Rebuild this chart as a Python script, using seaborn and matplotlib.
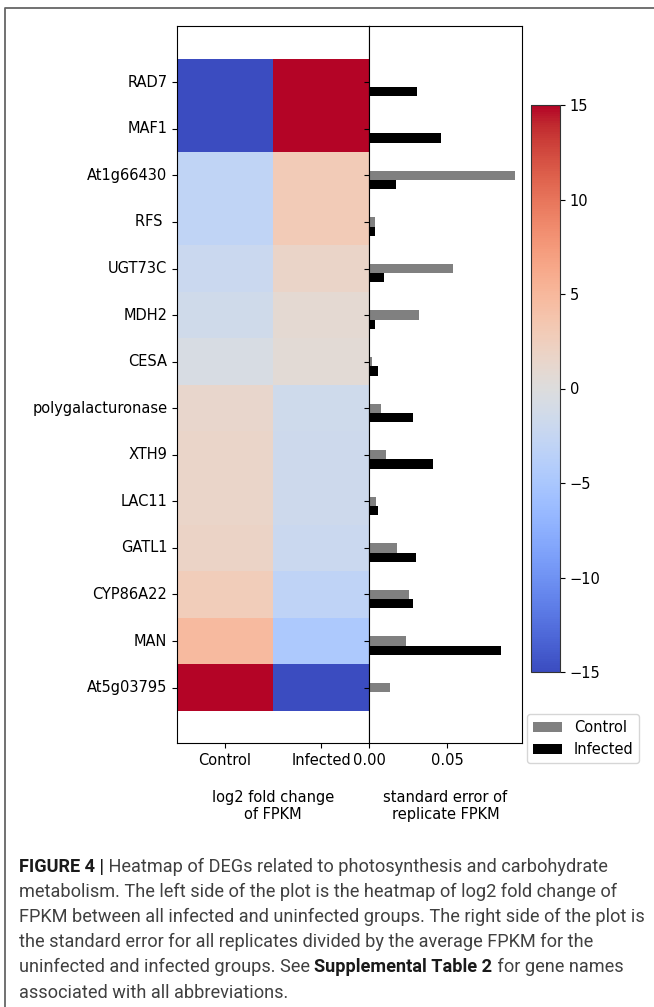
import numpy as np
import pandas as pd
import matplotlib
matplotlib.use("Agg")
import matplotlib.pyplot as plt
from matplotlib.lines import Line2D
from matplotlib.ticker import FormatStrFormatter
import seaborn as sns

# ---------------- data ----------------
genes = ["RAD7", "MAF1", "At1g66430", "RFS ", "UGT73C", "MDH2", "CESA",
         "polygalacturonase", "XTH9", "LAC11", "GATL1", "CYP86A22", "MAN",
         "At5g03795"]
groups = ["Control", "Infected"]
log2fc_control = [-15, -15, -3.0, -3.0, -2.1, -1.5, -0.7, 1.3, 1.6, 1.6, 1.8, 2.8, 4.7, 15]
log2fc_infected = [15, 15, 3.0, 3.0, 1.7, 0.9, 0.6, -1.6, -1.7, -1.7, -2.1, -3.1, -4.7, -15]
se_control = [0.0, 0.0, 0.093, 0.0036, 0.0536, 0.0318, 0.0017, 0.0075, 0.0111,
              0.0047, 0.0179, 0.0258, 0.0233, 0.0137]
se_infected = [0.0308, 0.046, 0.017, 0.0036, 0.0096, 0.0041, 0.0058, 0.0278, 0.041,
               0.0056, 0.030, 0.0278, 0.0842, 0.0]
cbar_ticks = [-15, -10, -5, 0, 5, 10, 15]
se_ticks = [0.0, 0.05]

# ---------------- figure ----------------
W, H = 654, 1007
plt.rcParams["font.family"] = ["DejaVu Sans"]
plt.rcParams["font.size"] = 10.5
fig = plt.figure(figsize=(W / 100, H / 100), dpi=100)


def fx(px):
    return px / W


def fy(py):
    return 1 - py / H


top_px, bot_px = 25.7, 743
ax_hm = fig.add_axes([fx(177), fy(bot_px), (369 - 177) / W, (bot_px - top_px) / H])
ax_bar = fig.add_axes([fx(369), fy(bot_px), (522 - 369) / W, (bot_px - top_px) / H])
cax = fig.add_axes([fx(531), fy(672), 29 / W, (672 - 105) / H])

n = len(genes)
df = pd.DataFrame({groups[0]: log2fc_control, groups[1]: log2fc_infected}, index=genes)
sns.heatmap(df, ax=ax_hm, cmap="coolwarm", vmin=-15, vmax=15, cbar_ax=cax,
            cbar_kws={"ticks": cbar_ticks})
ax_hm.set_yticks(np.arange(n) + 0.5)
ax_hm.set_yticklabels(genes, rotation=0)
ax_hm.set_xticklabels(groups, rotation=0)
ax_hm.set_ylim(n - 0.5 + 0.69 + 0.5, -0.715)
for s in ax_hm.spines.values():
    s.set_visible(True)
    s.set_linewidth(0.8)
    s.set_color("black")
ax_hm.tick_params(axis="both", length=3.5, width=0.8)
ax_hm.set_xlabel("log2 fold change\nof FPKM")
ax_hm.xaxis.set_label_coords(0.5, -0.0655)
ax_hm.set_ylabel("")

cb = ax_hm.collections[0].colorbar
cb.outline.set_visible(True)
cb.outline.set_linewidth(0.8)
cb.outline.set_edgecolor("#333333")
cb.ax.tick_params(labelsize=10.5, length=3.5, width=0.8)

# bars
pos = np.arange(n)
sns.barplot(x=se_control, y=pos, orient="y", native_scale=True, width=0.2,
            color="gray", saturation=1, errorbar=None, ax=ax_bar, label=groups[0])
sns.barplot(x=se_infected, y=pos + 0.2, orient="y", native_scale=True, width=0.2,
            color="black", saturation=1, errorbar=None, ax=ax_bar, label=groups[1])
ax_bar.set_yticks(pos)
ax_bar.set_yticklabels([])
ax_bar.set_ylim(n - 1 + 1.19, -1.215)
ax_bar.set_xlim(0, max(max(se_control), max(se_infected)) * 1.05)
ax_bar.set_xticks(se_ticks)
ax_bar.xaxis.set_major_formatter(FormatStrFormatter("%.2f"))
ax_bar.set_ylabel("")
for s in ax_bar.spines.values():
    s.set_visible(True)
    s.set_linewidth(0.8)
    s.set_color("black")
ax_bar.tick_params(axis="both", length=3.5, width=0.8)
ax_bar.set_xlabel("standard error of\nreplicate FPKM")
ax_bar.xaxis.set_label_coords(0.5, -0.0655)
leg = ax_bar.legend(loc="upper left", bbox_to_anchor=(fx(527), fy(714)),
                    bbox_transform=fig.transFigure, fontsize=10.5, borderaxespad=0)

# ---------------- frame ----------------
fig.add_artist(Line2D([fx(5.5), fx(5.5), 1.02], [-0.02, fy(8), fy(8)],
                      transform=fig.transFigure, color="#666666", lw=1.3))

# ---------------- caption ----------------
caption = [
    [("FIGURE 4 |", True), (" Heatmap of DEGs related to photosynthesis and carbohydrate", False)],
    [("metabolism. The left side of the plot is the heatmap of log2 fold change of", False)],
    [("FPKM between all infected and uninfected groups. The right side of the plot is", False)],
    [("the standard error for all replicates divided by the average FPKM for the", False)],
    [("uninfected and infected groups. See ", False), ("Supplemental Table 2", True),
     (" for gene names", False)],
    [("associated with all abbreviations.", False)],
]
renderer = fig.canvas.get_renderer()
cap_font = ["Roboto", "DejaVu Sans"]
probe = fig.text(0, 0, caption[2][0][0], fontsize=10, family=cap_font)
w10 = probe.get_window_extent(renderer).width
probe.remove()
cap_size = 10 * (642 - 19) / w10

x0 = 19
for k, line in enumerate(caption):
    ybase = 872 + 25.1 * k
    x = x0
    for txt, bold in line:
        t = fig.text(fx(x), fy(ybase), txt, fontsize=cap_size, family=cap_font,
                     fontweight="bold" if bold else "normal",
                     color="#1a1a1a" if bold else "#404040", va="baseline", ha="left")
        x = t.get_window_extent(renderer).x1

fig.savefig("out.png", dpi=100)
